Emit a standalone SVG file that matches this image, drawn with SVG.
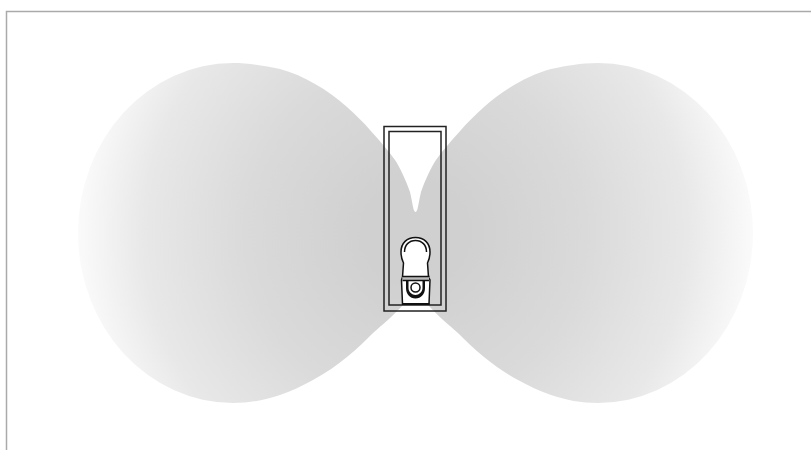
<svg xmlns="http://www.w3.org/2000/svg" width="811" height="450" viewBox="0 0 811 450">
<defs>
<radialGradient id="g" gradientUnits="userSpaceOnUse" cx="415.500" cy="233" r="340"><stop offset="0.15" stop-color="#d0d0d0"/><stop offset="0.5" stop-color="#dadada"/><stop offset="0.8" stop-color="#e8e8e8"/><stop offset="1" stop-color="#fbfbfb"/></radialGradient>
<path id="lobe" fill="url(#g)" d="M417 300L403 305C394 315 381 326 373 333C365 341 357 349 347 357C337 365 326 373 313 380C302 386 292 391 280 395C265 400 250 403 233 403A155 170 0 0 1 233 63C250 63 266 66 280 69C303 75 328 90 347 107C356 115 364 123 370 130C378 139 388 150 395 160C399 166 406 180 410 192C411.500 198 412.500 205 413.500 209C414 211 415 212 415.500 212L417 214Z"/>
</defs>
<style>.l{fill:none;stroke:#222;stroke-width:1.500}.s{fill:none;stroke:#111;stroke-width:1.500}</style>
<rect width="811" height="450" fill="#fff"/>
<path d="M6.500 450V11.500H811" fill="none" stroke="#aaa" stroke-width="1.500"/>
<g id="lobes">
<use href="#lobe"/>
<use href="#lobe" transform="matrix(-1 0 0 1 831 0)"/>
</g>
<g id="enclosure">
<rect class="l" x="384" y="126.500" width="62" height="184.500"/>
<rect class="l" x="389" y="131.500" width="52" height="173.500"/>
</g>
<g id="speaker">
<path class="s" style="fill:#fff" d="M402.500 277L403.500 263C401.500 259 401 256 401 252C401 243 407 237.500 415.500 237.500C424 237.500 430 243 430 252C430 256 429.500 259 427.500 263L428.500 277L430 280L429 304H402.500L401.500 280Z"/>
<path class="s" d="M404.500 252C404.500 245 409 240.500 415.500 240.500C422 240.500 426.500 245 426.500 252"/>
<path d="M402 277H429.500L428.500 280.500H403Z" fill="#bbb"/>
<path class="s" d="M402 276.500H429.500M402.500 280.500H429"/>
<path d="M406 280.500V288C406 294 410 298.500 415.500 298.500C421 298.500 425 294 425 288V280.500H422.500V288C422.500 292 419 295 415.500 295C412 295 408.500 292 408.500 288V280.500Z" fill="#111"/>
<circle class="s" cx="415.500" cy="287.500" r="4.500" stroke-width="2"/>
<path d="M402 303H429.500V305H402Z" fill="#111"/>
</g>
</svg>
